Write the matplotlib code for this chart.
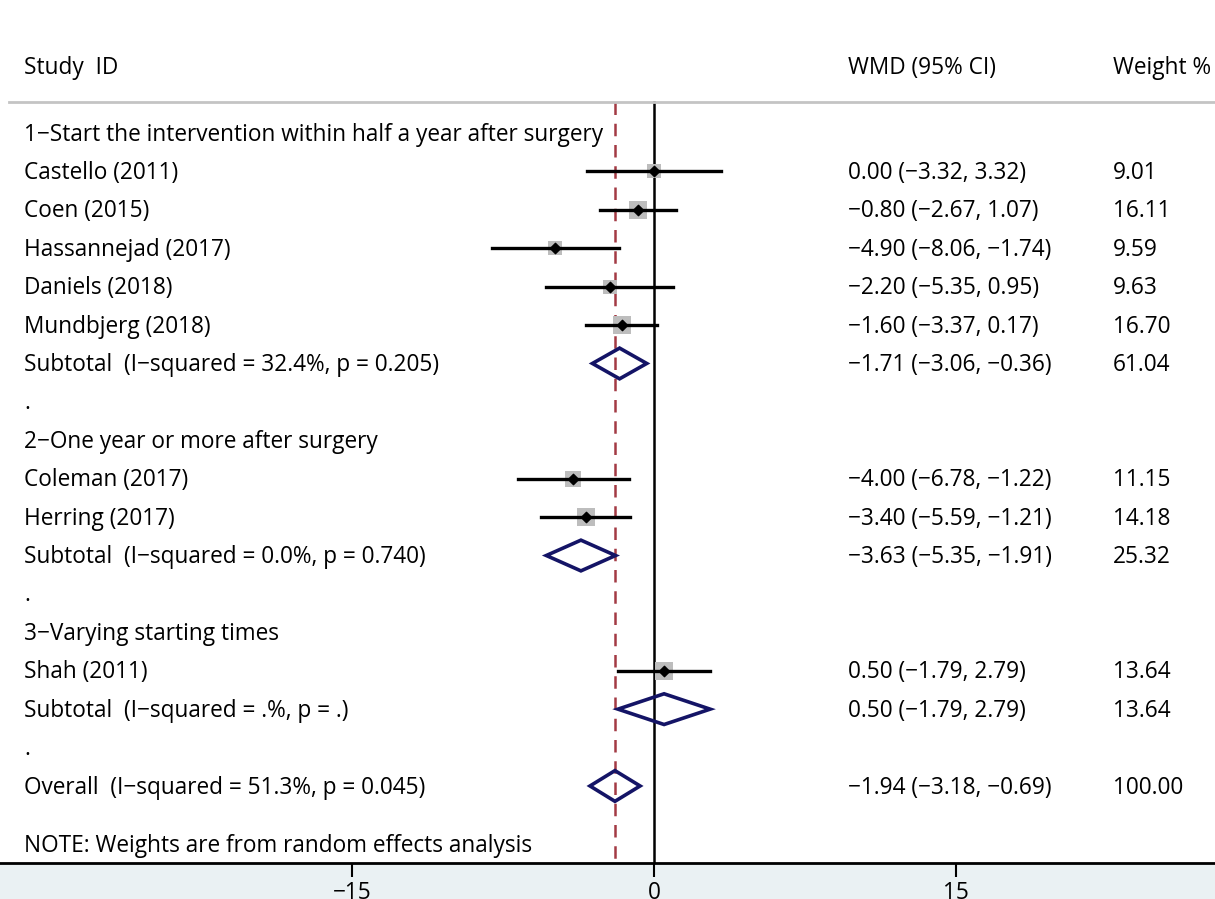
import numpy as np
import matplotlib
matplotlib.use('Agg')
import matplotlib.pyplot as plt
from matplotlib.patches import Polygon

plt.rcParams['font.family'] = ['Open Sans', 'DejaVu Sans']

# study level data
studies = ['Castello (2011)', 'Coen (2015)', 'Hassannejad (2017)', 'Daniels (2018)',
           'Mundbjerg (2018)', 'Coleman (2017)', 'Herring (2017)', 'Shah (2011)']
study_group = [1, 1, 1, 1, 1, 2, 2, 3]
wmd = [0.00, -0.80, -4.90, -2.20, -1.60, -4.00, -3.40, 0.50]
ci_low = [-3.32, -2.67, -8.06, -5.35, -3.37, -6.78, -5.59, -1.79]
ci_high = [3.32, 1.07, -1.74, 0.95, 0.17, -1.22, -1.21, 2.79]
weights = [9.01, 16.11, 9.59, 9.63, 16.70, 11.15, 14.18, 13.64]

# subgroups
group_titles = ['1\u2212Start the intervention within half a year after surgery',
                '2\u2212One year or more after surgery',
                '3\u2212Varying starting times']
sub_labels = ['Subtotal  (I\u2212squared = 32.4%, p = 0.205)',
              'Subtotal  (I\u2212squared = 0.0%, p = 0.740)',
              'Subtotal  (I\u2212squared = .%, p = .)']
sub_wmd = [-1.71, -3.63, 0.50]
sub_low = [-3.06, -5.35, -1.79]
sub_high = [-0.36, -1.91, 2.79]
sub_weight = [61.04, 25.32, 13.64]

# overall
overall_label = 'Overall  (I\u2212squared = 51.3%, p = 0.045)'
overall_wmd = -1.94
overall_low = -3.18
overall_high = -0.69
overall_weight = 100.00

x_ticks = [-15, 0, 15]


def fmt(v):
    return ('%.2f' % v).replace('-', '\u2212')


def ci_text(e, lo, hi):
    return '%s (%s, %s)' % (fmt(e), fmt(lo), fmt(hi))


fig = plt.figure(figsize=(12.15, 8.99), dpi=100)
fig.patch.set_facecolor('#eaf1f3')
ax = fig.add_axes([0, 36 / 899, 1, 863 / 899])
ax.set_facecolor('white')

# 0 sits at 654px, 20.13 px per unit
ax.set_xlim(-654 / 20.13, (1215 - 654) / 20.13)
row0 = 133.0
step = 38.41
ax.set_ylim((863 - row0) / step, -row0 / step)

fs = 16.3
x_lab = 24 / 1215
x_ci = 848 / 1215
x_w = 1113 / 1215
tr = ax.get_yaxis_transform()
dy = 0.04  # text sits a touch low in the reference


def put_row(r, label, est=None, lo=None, hi=None, w=None):
    ax.text(x_lab, r + dy, label, transform=tr, va='center', ha='left', fontsize=fs)
    if est is not None:
        ax.text(x_ci, r + dy, ci_text(est, lo, hi), transform=tr, va='center', ha='left', fontsize=fs)
        ax.text(x_w, r + dy, '%.2f' % w, transform=tr, va='center', ha='left', fontsize=fs)


def diamond(r, est, lo, hi):
    d = Polygon([[lo, r], [est, r - 0.4], [hi, r], [est, r + 0.4]],
                closed=True, fill=False, edgecolor='#141466', lw=2.6, zorder=4)
    ax.add_patch(d)


row = 0
for g in range(3):
    put_row(row, group_titles[g])
    row += 1
    for i in range(len(studies)):
        if study_group[i] != g + 1:
            continue
        ax.plot([ci_low[i], ci_high[i]], [row, row], color='black', lw=2.4, zorder=3)
        ax.scatter(wmd[i], row, marker='s', s=11 * weights[i], color='#bdbdbd', zorder=2, linewidths=0)
        ax.scatter(wmd[i], row, marker='D', s=28, color='black', zorder=4)
        put_row(row, studies[i], wmd[i], ci_low[i], ci_high[i], weights[i])
        row += 1
    diamond(row, sub_wmd[g], sub_low[g], sub_high[g])
    put_row(row, sub_labels[g], sub_wmd[g], sub_low[g], sub_high[g], sub_weight[g])
    row += 1
    put_row(row, '.')
    row += 1

diamond(row, overall_wmd, overall_low, overall_high)
put_row(row, overall_label, overall_wmd, overall_low, overall_high, overall_weight)
put_row(row + 1.52, 'NOTE: Weights are from random effects analysis')

# header
head_y = (66 - row0) / step
line_y = (102 - row0) / step
ax.text(x_lab, head_y + dy, 'Study  ID', transform=tr, va='center', ha='left', fontsize=fs)
ax.text(x_ci, head_y + dy, 'WMD (95% CI)', transform=tr, va='center', ha='left', fontsize=fs)
ax.text(x_w, head_y + dy, 'Weight %', transform=tr, va='center', ha='left', fontsize=fs)
ax.plot([0.007, 1], [line_y, line_y], transform=tr, color='#c4c4c4', lw=2)

ybot = ax.get_ylim()[0]
ax.plot([0, 0], [line_y, ybot], color='black', lw=1.8, zorder=1)
ax.plot([overall_wmd, overall_wmd], [line_y, ybot], color='#a33a44', lw=1.8,
        dashes=(5, 3.5), zorder=1)

for s in ['top', 'right', 'left']:
    ax.spines[s].set_visible(False)
ax.spines['bottom'].set_linewidth(2)
ax.set_yticks([])
ax.set_xticks(x_ticks)
ax.set_xticklabels([('%d' % t).replace('-', '\u2212') for t in x_ticks], fontsize=fs)
ax.tick_params(axis='x', length=10, width=1.5, pad=3)

fig.savefig('out.png', dpi=100, facecolor=fig.get_facecolor())
